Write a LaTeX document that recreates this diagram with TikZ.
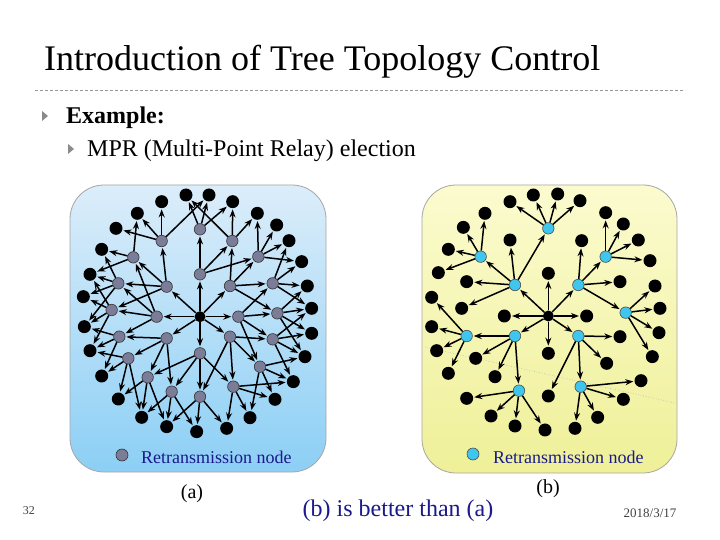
\documentclass[tikz,border=0pt]{standalone}
\usepackage{fontspec}
\setmainfont{Liberation Serif}
\usetikzlibrary{arrows.meta}
\definecolor{bluetop}{HTML}{DCEDFA}
\definecolor{bluebot}{HTML}{8CCFF5}
\definecolor{yeltop}{HTML}{FBFBCF}
\definecolor{yelbot}{HTML}{EFF098}
\definecolor{grayn}{HTML}{7B7D98}
\definecolor{cyann}{HTML}{3FC6EE}
\definecolor{txtblue}{HTML}{1A1A8C}
\definecolor{bulletgray}{HTML}{8A8A8A}
\tikzset{
  blk/.style={circle,fill=black,inner sep=0pt,minimum size=13pt},
  ctr/.style={circle,fill=black,inner sep=0pt,minimum size=11pt},
  gry/.style={circle,fill=grayn,draw=black!80,line width=0.6pt,inner sep=0pt,minimum size=11.5pt},
  cyn/.style={circle,fill=cyann,draw=black!70,line width=0.6pt,inner sep=0pt,minimum size=11.5pt},
  arr/.style={line width=1.5pt,-{Stealth[length=8pt,width=6pt]},shorten >=1pt},
  panel/.style={rounded corners=34pt,draw=black!35,line width=0.8pt},
  legend/.style={font=\fontsize{18}{20}\selectfont,text=txtblue,anchor=base west,inner sep=0pt},
  bullet/.style={fill=bulletgray}
}
\begin{document}
\begin{tikzpicture}[x=1pt,y=-1pt]
\useasboundingbox (0,0) rectangle (720,540);
\fill[white] (0,0) rectangle (720,540);
% title
\node[anchor=base west,inner sep=0pt,font=\fontsize{36}{40}\selectfont] (title) at (44,71) {Introduction of Tree Topology Control};
\draw[black!40,line width=0.6pt,dash pattern=on 3pt off 2pt] (35,90) -- (685,90);
% bullets
\fill[bullet] (42,111) -- (48,116) -- (42,121) -- cycle;
\node[anchor=base west,inner sep=0pt,font=\fontsize{24}{28}\selectfont\bfseries] (ex) at (66,124) {Example:};
\fill[bullet] (68,144) -- (74,149) -- (68,154) -- cycle;
\node[anchor=base west,inner sep=0pt,font=\fontsize{24}{28}\selectfont] (mpr) at (87,157) {MPR (Multi-Point Relay) election};
% panels
\shade[panel,top color=bluetop,bottom color=bluebot] (70,185) rectangle (326,472);
\shade[panel,top color=yeltop,bottom color=yelbot] (422,185) rectangle (677,473);
\draw[black!30,dotted,line width=0.6pt] (425,347) -- (675,403);
% ===== left panel =====
\begin{scope}[xshift=60pt,yshift=-180pt,x=0.33333pt,y=-0.33333pt]
\node[ctr] (LC) at (420,410) {};
\foreach \n/\p in {LG1/{(420,148)},LG2/{(305,183)},LG3/{(517,183)},LG4/{(220,232)},LG5/{(595,230)},
  LG6/{(420,283)},LG7/{(320,320)},LG8/{(510,318)},LG9/{(175,310)},LG10/{(638,310)},
  LG11/{(155,390)},LG12/{(290,410)},LG13/{(535,410)},LG14/{(652,400)},LG15/{(178,470)},
  LG16/{(320,475)},LG17/{(510,470)},LG18/{(638,478)},LG19/{(205,535)},LG20/{(420,520)},
  LG21/{(600,560)},LG22/{(263,592)},LG23/{(335,635)},LG24/{(520,620)},LG25/{(420,650)}}
  \node[gry] (\n) at \p {};
\foreach \n/\p in {LB1/{(305,65)},LB2/{(378,45)},LB3/{(447,45)},LB4/{(518,65)},LB5/{(232,100)},
  LB6/{(592,100)},LB7/{(168,145)},LB8/{(650,135)},LB9/{(125,208)},LB10/{(687,182)},
  LB11/{(90,283)},LB12/{(725,245)},LB13/{(70,350)},LB14/{(742,318)},LB15/{(73,440)},
  LB16/{(755,385)},LB17/{(90,512)},LB18/{(755,460)},LB19/{(125,588)},LB20/{(735,530)},
  LB21/{(175,657)},LB22/{(700,605)},LB23/{(245,712)},LB24/{(645,658)},LB25/{(320,740)},
  LB26/{(570,713)},LB27/{(410,755)},LB28/{(500,745)}}
  \node[blk] (\n) at \p {};
\foreach \a/\b in {LC/LG6,LC/LG7,LC/LG8,LC/LG12,LC/LG13,LC/LG16,LC/LG17,LC/LG20,
  LG6/LG1,LG6/LG3,LG6/LG5,
  LG7/LG2,LG7/LG4,LG7/LG9,LG7/LG11,
  LG8/LG3,LG8/LG5,LG8/LG10,LG8/LG14,
  LG12/LG4,LG12/LG9,LG12/LG11,LG12/LG15,
  LG13/LG10,LG13/LG14,LG13/LG18,LG13/LG21,
  LG16/LG15,LG16/LG19,LG16/LG22,LG16/LG23,
  LG17/LG18,LG17/LG21,LG17/LG24,LG17/LG25,
  LG20/LG22,LG20/LG23,LG20/LG24,LG20/LG25,
  LG1/LB2,LG1/LB3,LG1/LB4,
  LG2/LB1,LG2/LB3,LG2/LB5,LG2/LB7,
  LG3/LB2,LG3/LB4,LG3/LB6,
  LG4/LB5,LG4/LB9,LG4/LB11,
  LG5/LB6,LG5/LB8,LG5/LB10,LG5/LB12,
  LG9/LB9,LG9/LB11,LG9/LB13,LG9/LB15,
  LG10/LB10,LG10/LB12,LG10/LB14,LG10/LB16,
  LG11/LB11,LG11/LB13,LG11/LB15,LG11/LB17,
  LG14/LB14,LG14/LB16,LG14/LB18,LG14/LB20,
  LG15/LB15,LG15/LB17,LG15/LB19,
  LG18/LB16,LG18/LB18,LG18/LB20,LG18/LB22,
  LG19/LB17,LG19/LB19,LG19/LB21,LG19/LB23,
  LG21/LB20,LG21/LB22,LG21/LB24,LG21/LB26,
  LG22/LB21,LG22/LB23,LG22/LB25,
  LG23/LB23,LG23/LB25,LG23/LB27,
  LG24/LB22,LG24/LB24,LG24/LB26,LG24/LB28,
  LG25/LB25,LG25/LB27,LG25/LB28}
  \draw[arr] (\a) -- (\b);
\end{scope}
\node[gry,minimum size=12pt] (legL) at (122,455) {};
\node[legend] (legLt) at (141,463) {Retransmission node};
% ===== right panel =====
\begin{scope}[xshift=415pt,yshift=-180pt,x=0.33333pt,y=-0.33333pt]
\node[ctr] (RC) at (400,408) {};
\foreach \n/\p in {RG1/{(400,145)},RG2/{(572,230)},RG3/{(197,230)},RG4/{(300,315)},RG5/{(490,315)},
  RG6/{(632,398)},RG7/{(155,468)},RG8/{(300,468)},RG9/{(490,468)},RG10/{(312,632)},RG11/{(497,620)}}
  \node[cyn] (\n) at \p {};
\foreach \n/\p in {RB1/{(285,65)},RB2/{(355,45)},RB3/{(428,42)},RB4/{(495,62)},RB5/{(210,100)},
  RB6/{(572,98)},RB7/{(145,142)},RB8/{(625,132)},RB9/{(100,208)},RB10/{(670,180)},
  RB11/{(70,278)},RB12/{(705,242)},RB13/{(285,180)},RB14/{(500,182)},RB15/{(400,280)},
  RB16/{(155,305)},RB17/{(615,305)},RB18/{(720,318)},RB19/{(50,352)},RB20/{(140,385)},
  RB21/{(268,408)},RB22/{(515,408)},RB23/{(735,385)},RB24/{(50,440)},RB25/{(732,458)},
  RB26/{(65,512)},RB27/{(182,535)},RB28/{(240,590)},RB29/{(400,520)},RB30/{(615,470)},
  RB31/{(575,550)},RB32/{(712,530)},RB33/{(100,580)},RB34/{(155,655)},RB35/{(400,648)},
  RB36/{(678,602)},RB37/{(625,658)},RB38/{(228,708)},RB39/{(300,738)},RB40/{(390,750)},
  RB41/{(548,712)},RB42/{(480,745)}}
  \node[blk] (\n) at \p {};
\foreach \a/\b in {RC/RG4,RC/RG5,RC/RG8,RC/RG9,RC/RB21,RC/RB22,RC/RB15,RC/RB29,
  RG1/RB1,RG1/RB2,RG1/RB3,RG1/RB4,
  RG4/RG1,RG4/RG3,RG4/RB13,RG4/RB16,RG4/RB20,
  RG3/RB5,RG3/RB7,RG3/RB9,RG3/RB11,
  RG5/RB14,RG5/RG2,RG5/RB17,RG5/RG6,
  RG2/RB6,RG2/RB8,RG2/RB10,RG2/RB12,
  RG6/RB18,RG6/RB23,RG6/RB25,RG6/RB32,
  RG8/RG7,RG8/RB27,RG8/RB28,RG8/RG10,
  RG7/RB19,RG7/RB24,RG7/RB26,RG7/RB33,
  RG9/RB30,RG9/RB31,RG9/RB35,RG9/RG11,
  RG10/RB34,RG10/RB38,RG10/RB39,RG10/RB40,
  RG11/RB36,RG11/RB37,RG11/RB41,RG11/RB42}
  \draw[arr] (\a) -- (\b);
\end{scope}
\node[cyn,minimum size=12pt] (legR) at (473,454) {};
\node[legend] (legRt) at (493,463) {Retransmission node};
% captions
\node[font=\fontsize{20}{22}\selectfont] (capa) at (192,494) {(a)};
\node[font=\fontsize{20}{22}\selectfont] (capb) at (548,489) {(b)};
\node[font=\fontsize{24}{26}\selectfont,text=txtblue] (concl) at (398,511) {(b) is better than (a)};
\node[font=\fontsize{12}{14}\selectfont,text=black!75] (pg) at (29,511) {32};
\node[font=\fontsize{13}{15}\selectfont,text=black!75] (date) at (650,513) {2018/3/17};
\end{tikzpicture}
\end{document}
